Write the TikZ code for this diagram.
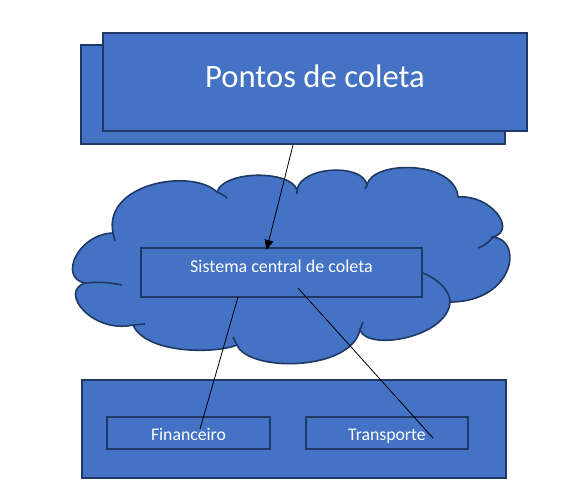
\documentclass[tikz,border=0pt]{standalone}
\usepackage{fontspec}
\setmainfont{Carlito}
\usepackage{tikz}
\usetikzlibrary{shapes,calc,positioning,arrows.meta}
\definecolor{officeblue}{HTML}{4472C4}
\definecolor{darkedge}{HTML}{1F3864}

\begin{document}
\begin{tikzpicture}[x=0.75pt, y=-0.75pt,
      box/.style={rectangle, draw=darkedge, fill=officeblue, line width=1.5pt, inner sep=0pt, text=white},
      bigbox/.style={box, minimum width=318pt, minimum height=73.5pt},
      smallbox/.style={box, minimum height=24pt, font=\fontsize{13.3}{16}\selectfont, text height=10.5pt, text depth=0pt},
      cloudline/.style={draw=darkedge, line width=1.2pt},
      link/.style={draw=black, line width=0.6pt}]
    \useasboundingbox (0,0) rectangle (583,496);
    \node (pontosBack) [bigbox, minimum height=74.25pt] at (293,94.5) {};
    \node (pontos) [bigbox, font=\fontsize{24.5}{29}\selectfont, text height=15pt, text depth=7.5pt] at (315,82) {Pontos de coleta};
    \path[cloudline, fill=officeblue] (113,233)
      .. controls (103,183) and (192,168) .. (217,192)
      .. controls (224,170) and (291,170) .. (297,190)
      .. controls (301,166) and (363,163) .. (367,185)
      .. controls (372,160) and (455,160) .. (458,197)
      .. controls (490,194) and (518,230) .. (493,237)
      .. controls (524,240) and (514,302) .. (450,302)
      .. controls (448,337) and (368,352) .. (360,330)
      .. controls (350,372) and (248,372) .. (237,345)
      .. controls (215,354) and (146,354) .. (133,325)
      .. controls (93,334) and (58,292) .. (85,283)
      .. controls (58,278) and (78,234) .. (113,233) -- cycle;
    \draw[cloudline] (217,192) to[bend left=10] (227,198);
    \draw[cloudline] (297,188) -- (297,194);
    \draw[cloudline] (367,185) -- (365,189);
    \draw[cloudline] (493,237) to[bend left=15] (478,248);
    \draw[cloudline] (420,272) .. controls (437,278) and (450,290) .. (450,302);
    \draw[cloudline] (360,330) -- (363,322);
    \draw[cloudline] (237,345) -- (233,337);
    \draw[cloudline] (133,325) -- (145,324);
    \draw[cloudline] (85,283) to[bend left=8] (122,285);
    \draw[cloudline] (113,233) -- (115,241);
    \node (sistema) [box, minimum width=210.75pt, minimum height=36.75pt, font=\fontsize{13.5}{16}\selectfont, text height=5pt, text depth=5pt] at (281.5,272.5) {Sistema central de coleta};
    \node (setores) [bigbox] at (294,429) {};
    \node (financeiro) [smallbox, minimum width=122.25pt] at (188.5,433) {Financeiro};
    \node (transporte) [smallbox, minimum width=121.5pt] at (387,433) {Transporte};
    \draw[link, -{Triangle[length=7.5pt,width=6.5pt]}] (pontosBack.south) -- ($(sistema.north)+(-15,3)$);
    \draw[link] ($(sistema.center)+(-43.5,24.5)$) -- ($(financeiro.center)+(11.5,-4)$);
    \draw[link] ($(sistema.center)+(16.5,15.5)$) -- ($(transporte.center)+(46,5)$);
  \end{tikzpicture}
\end{document}
